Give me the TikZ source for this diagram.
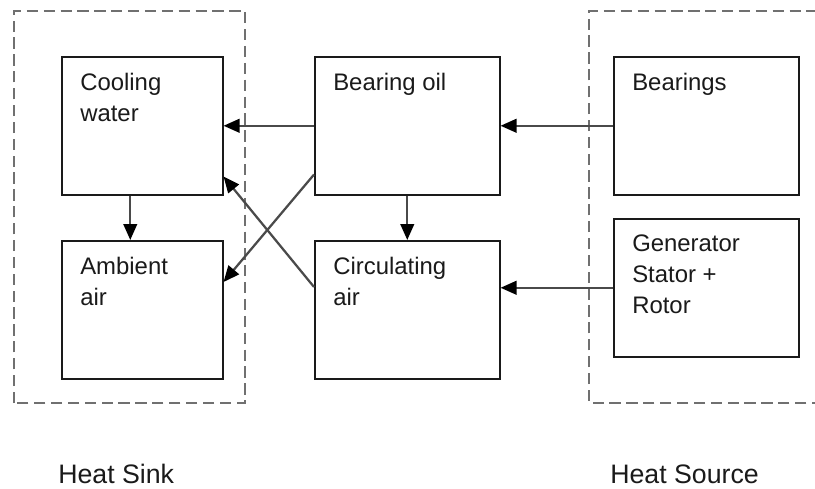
\documentclass[tikz,border=0pt]{standalone}
\usepackage{fontspec}
\setmainfont{Liberation Sans}
\usetikzlibrary{arrows.meta, positioning, calc}
\definecolor{BoxInk}{HTML}{1A1A1A}
\definecolor{FlowInk}{HTML}{4A4A4A}
\definecolor{ZoneInk}{HTML}{707070}

\begin{document}
\begin{tikzpicture}[
  unit/.style={draw=BoxInk, line width=1.1pt, minimum height=\bh cm, inner sep=0pt, anchor=north west},
  unittext/.style={anchor=north west, inner sep=0pt, align=left, text=BoxInk, font=\fontsize{17}{22}\selectfont},
  flow/.style={draw=FlowInk, line width=1.6pt, -{Triangle[length=0.4cm, width=0.34cm, color=black]}},
  zone/.style={draw=ZoneInk, line width=1.4pt, dash pattern=on 8pt off 4pt},
  zonelabel/.style={anchor=base west, inner sep=0pt, text=BoxInk, font=\fontsize{19}{23}\selectfont}]
\def\bh{3.45}
\def\sw{4.025}
\def\bw{4.625}

\useasboundingbox (0,0) rectangle (20.375,12.2);
\fill[white] (0,0) rectangle (20.375,12.2);

\draw[zone] (0.35,2.125) rectangle (6.125,11.925);
\draw[zone] (21,2.125) -- (14.725,2.125) -- (14.725,11.925) -- (21,11.925);

\node[unit, minimum width=\sw cm] (cool) at (1.525,10.8) {};
\node[unit, minimum width=\sw cm] (amb) at (1.525,6.2) {};
\node[unit, minimum width=\bw cm] (oil) at (7.85,10.8) {};
\node[unit, minimum width=\bw cm] (circ) at (7.85,6.2) {};
\node[unit, minimum width=\bw cm] (brg) at (15.325,10.8) {};
\node[unit, minimum width=\bw cm] (gen) at (15.325,6.75) {};

\node[unittext] (coolt) at ([shift={(0.475,-0.425)}]cool.north west) {Cooling\\water};
\node[unittext] (ambt) at ([shift={(0.475,-0.425)}]amb.north west) {Ambient\\air};
\node[unittext] (oilt) at ([shift={(0.475,-0.425)}]oil.north west) {Bearing oil};
\node[unittext] (circt) at ([shift={(0.475,-0.425)}]circ.north west) {Circulating\\air};
\node[unittext] (brgt) at ([shift={(0.475,-0.425)}]brg.north west) {Bearings};
\node[unittext] (gent) at ([shift={(0.475,-0.425)}]gen.north west) {Generator\\Stator +\\Rotor};

\draw[flow] (oil.west) -- (cool.east);
\draw[flow] (brg.west) -- (oil.east);
\draw[flow] (gen.west) -- (gen.west -| circ.east);
\draw[flow] ([xshift=-0.3cm]cool.south) -- ([xshift=-0.3cm]cool.south |- amb.north);
\draw[flow] (oil.south) -- (circ.north);
\draw[flow] ([yshift=0.525cm]oil.south west) -- ([yshift=-1.05cm]amb.north east);
\draw[flow] ([yshift=-1.175cm]circ.north west) -- ([yshift=0.475cm]cool.south east);

\node[zonelabel] (sink) at (1.45,0.125) {Heat Sink};
\node[zonelabel] (source) at (15.25,0.125) {Heat Source};
\end{tikzpicture}
\end{document}
